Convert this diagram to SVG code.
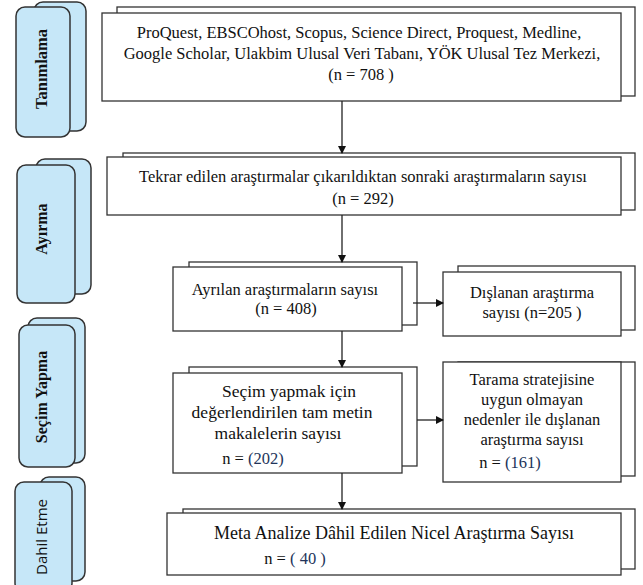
<svg xmlns="http://www.w3.org/2000/svg" width="643" height="585" viewBox="0 0 643 585">
<style>
.tab{fill:#c6e7f8;stroke:#333;stroke-width:1.5}
.box{fill:#fff;stroke:#333;stroke-width:1.3}
.t{font-family:"Liberation Serif","Times New Roman",serif;font-size:16.5px;fill:#111;text-anchor:middle}
.t5{font-size:17.5px}
.t7{font-size:18px}
.nv{fill:#22345a}
.tl{font-family:"Liberation Serif","Times New Roman",serif;font-size:16px;font-weight:bold;fill:#111;text-anchor:middle}
.ts{font-family:"Open Sans","Noto Sans",sans-serif;font-size:15px;fill:#111;text-anchor:middle}
.c{stroke:#222;stroke-width:1.3;fill:none}
</style>
<defs>
<marker id="ah" markerWidth="8" markerHeight="8" refX="7" refY="4" orient="auto" markerUnits="userSpaceOnUse">
<path d="M0,0 L8,4 L0,8 Z" fill="#111"/>
</marker>
</defs>
<rect width="643" height="585" fill="#fff"/>

<g id="tab-tanimlama">
<rect class="tab" x="34" y="2" width="52" height="129" rx="9"/>
<rect class="tab" x="16" y="7" width="54" height="130" rx="9"/>
<text class="tl" style="font-size:16.5px" transform="translate(47,69) rotate(-90)">Tanımlama</text>
</g>
<g id="tab-ayirma">
<rect class="tab" x="36" y="159" width="55" height="135" rx="9"/>
<rect class="tab" x="17" y="165" width="58" height="138" rx="9"/>
<text class="tl" transform="translate(47,229) rotate(-90)">Ayırma</text>
</g>
<g id="tab-secim">
<rect class="tab" x="28" y="318" width="57" height="145" rx="9"/>
<rect class="tab" x="19" y="325" width="56" height="142" rx="9"/>
<text class="tl" transform="translate(47,397) rotate(-90)">Seçim Yapma</text>
</g>
<g id="tab-dahil">
<rect class="tab" x="40" y="477" width="45" height="104" rx="9"/>
<rect class="tab" x="15" y="482" width="57" height="110" rx="9"/>
<text class="ts" transform="translate(47,537) rotate(-90)">Dahil Etme</text>
</g>

<g id="box-tanimlama">
<rect class="box" x="117" y="7" width="518" height="89"/>
<rect class="box" x="102" y="13" width="519" height="88"/>
<text class="t" x="359" y="38">ProQuest, EBSCOhost, Scopus, Science Direct, Proquest, Medline,</text>
<text class="t" x="362" y="59">Google Scholar, Ulakbim Ulusal Veri Tabanı, YÖK Ulusal Tez Merkezi,</text>
<text class="t" x="361" y="80">(n = 708 )</text>
</g>

<g id="box-tekrar">
<rect class="box" x="123" y="153" width="512" height="57"/>
<rect class="box" x="107" y="157" width="514" height="58"/>
<text class="t" x="363" y="182">Tekrar edilen araştırmalar çıkarıldıktan sonraki araştırmaların sayısı</text>
<text class="t" x="363" y="204">(n = 292)</text>
</g>

<g id="box-ayrilan">
<rect class="box" x="189" y="262" width="228" height="63"/>
<rect class="box" x="173" y="267" width="229" height="64"/>
<text class="t" x="285" y="295">Ayrılan araştırmaların sayısı</text>
<text class="t" x="286" y="314">(n = 408)</text>
</g>

<g id="box-dislanan">
<rect class="box" x="458" y="266" width="177" height="64"/>
<rect class="box" x="443" y="272" width="178" height="64"/>
<text class="t" x="532" y="298">Dışlanan araştırma</text>
<text class="t" x="532" y="318">sayısı (n=205 )</text>
</g>

<g id="box-secim">
<rect class="box" x="189" y="367" width="228" height="99"/>
<rect class="box" x="173" y="373" width="229" height="100"/>
<text class="t t5" x="289" y="397">Seçim yapmak için</text>
<text class="t t5" x="282" y="418">değerlendirilen tam metin</text>
<text class="t t5" x="278" y="439">makalelerin sayısı</text>
<text class="t" x="253" y="464">n = <tspan class="nv">(202)</tspan></text>
</g>

<g id="box-tarama">
<rect class="box" x="458" y="362" width="177" height="114"/>
<rect class="box" x="443" y="362" width="178" height="120"/>
<text class="t" x="532" y="385">Tarama stratejisine</text>
<text class="t" x="532" y="405">uygun olmayan</text>
<text class="t" x="532" y="425">nedenler ile dışlanan</text>
<text class="t" x="532" y="445">araştırma sayısı</text>
<text class="t" x="510" y="468">n = <tspan class="nv">(161)</tspan></text>
</g>

<g id="box-meta">
<rect class="box" x="183" y="509" width="452" height="60"/>
<rect class="box" x="167" y="513" width="454" height="62"/>
<text class="t t7" x="394" y="539">Meta Analize Dâhil Edilen Nicel Araştırma Sayısı</text>
<text class="t" x="295" y="564">n = <tspan class="nv">( 40 )</tspan></text>
</g>

<g id="connectors">
<line class="c" x1="342" y1="101" x2="342" y2="153" marker-end="url(#ah)"/>
<line class="c" x1="342" y1="215" x2="342" y2="262" marker-end="url(#ah)"/>
<line class="c" x1="342" y1="331" x2="342" y2="367" marker-end="url(#ah)"/>
<line class="c" x1="342" y1="473" x2="342" y2="509" marker-end="url(#ah)"/>
<line class="c" x1="413" y1="303" x2="443" y2="303" marker-end="url(#ah)"/>
<line class="c" x1="417" y1="420" x2="443" y2="420" marker-end="url(#ah)"/>
</g>
</svg>
